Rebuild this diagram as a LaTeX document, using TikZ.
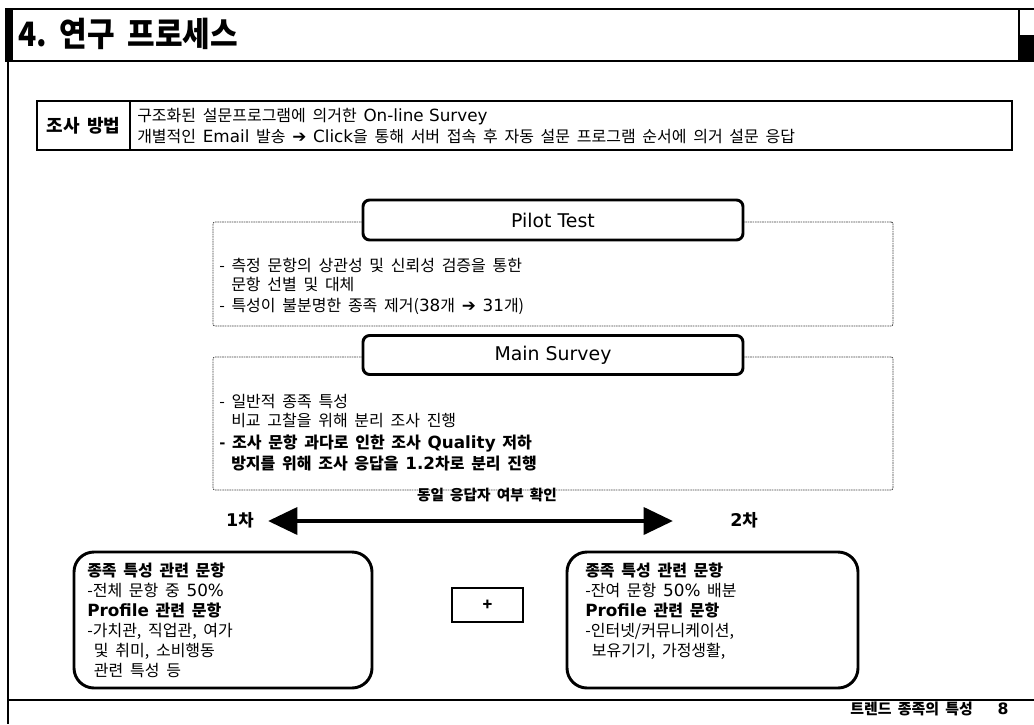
\documentclass[tikz,border=0pt]{standalone}
\usepackage{fontspec}
\setmainfont{Noto Sans CJK KR}
\newfontfamily\lat{DejaVu Sans}[Scale=1.05]
\usetikzlibrary{arrows.meta}
\newcommand{\la}[1]{{\lat #1}}
\newcommand{\sk}{\hspace{0.42em}}
\begin{document}
\begin{tikzpicture}[x=0.75pt,y=-0.75pt,
  txt/.style={anchor=base west, inner sep=0pt, font={\fontsize{12}{14}\selectfont}},
  btxt/.style={anchor=base west, inner sep=0pt, font={\fontsize{12}{14}\selectfont\bfseries}},
  headbox/.style={draw, line width=2.2pt, rounded corners=5pt, fill=white, minimum width=285pt, inner sep=0pt, font={\fontsize{13.5}{15}\selectfont\lat}},
  dbox/.style={draw=black!75, line width=0.6pt, dash pattern=on 1.2pt off 0.6pt, rounded corners=1.5pt, minimum width=510pt, inner sep=0pt},
  rbox/.style={draw, line width=2.2pt, rounded corners=15pt, minimum height=102pt, inner sep=0pt},
  boxtxt/.style={anchor=north west, inner sep=0pt, align=left, font={\fontsize{12}{15}\selectfont}},
  lbl/.style={anchor=base, inner sep=0pt, font={\fontsize{12.5}{14}\selectfont\bfseries}}
]
\useasboundingbox (0,0) rectangle (1034,724);
% title bar
\draw[line width=2pt] (5,9) -- (1034,9);
\draw[line width=2.2pt] (5,61) -- (1034,61);
\fill (5,9) rectangle (13,61);
\draw[line width=0.9pt] (1019,9) -- (1019,61);
\fill (1019,35) rectangle (1034,61);
\node[anchor=base west, inner sep=0pt, font={\fontsize{22.5}{26}\selectfont\bfseries}] (title) at (18,46) {\scalebox{1.0}[1.12]{4.\sk 연구\sk 프로세스}};
% page frame
\draw[line width=1.1pt] (8,61) -- (8,724);
\draw[line width=0.9pt] (8,700) -- (1034,700);
% survey method
\node[draw, line width=0.8pt, minimum width=731.25pt, minimum height=36.75pt, inner sep=0pt] (survey) at (524.5,125.5) {};
\node[draw, line width=0.8pt, minimum width=69.75pt, minimum height=36.75pt, inner sep=0pt, font={\fontsize{13.5}{15}\selectfont\bfseries}] (method) at (83.5,125.5) {조사\sk 방법};
\node[txt] (s1) at (137,121) {구조화된\sk 설문프로그램에\sk 의거한\sk \la{On-line Survey}};
\node[txt] (s2) at (137,142) {개별적인\sk \la{Email}\sk 발송\sk \la{➔}\sk \la{Click}을\sk 통해\sk 서버\sk 접속\sk 후\sk 자동\sk 설문\sk 프로그램\sk 순서에\sk 의거\sk 설문\sk 응답};
% pilot test
\node[dbox, minimum height=78pt] (pbox) at (553,274) {};
\node[headbox, minimum height=30pt] (pilot) at (553,220) {Pilot Test};
\node[txt] (p1) at (219,271) {-\sk 측정\sk 문항의\sk 상관성\sk 및\sk 신뢰성\sk 검증을\sk 통한};
\node[txt] (p2) at (231,290) {문항\sk 선별\sk 및\sk 대체};
\node[txt] (p3) at (219,311) {-\sk 특성이\sk 불분명한\sk 종족\sk 제거(\la{38}개\sk \la{➔}\sk \la{31}개)};
% main survey
\node[dbox, minimum height=99.75pt] (mbox) at (553,423.5) {};
\node[headbox, minimum height=29.25pt] (main) at (553,355) {Main Survey};
\node[txt] (m1) at (219,407) {-\sk 일반적\sk 종족\sk 특성};
\node[txt] (m2) at (231,426) {비교\sk 고찰을\sk 위해\sk 분리\sk 조사\sk 진행};
\node[btxt] (m3) at (219,448) {-\sk 조사\sk 문항\sk 과다로\sk 인한\sk 조사\sk \la{Quality}\sk 저하};
\node[btxt] (m4) at (231,469) {방지를\sk 위해\sk 조사\sk 응답을\sk \la{1.2}차로\sk 분리\sk 진행};
% arrow
\node[lbl, font={\fontsize{11}{13}\selectfont\bfseries}] (same) at (487,500) {동일\sk 응답자\sk 여부\sk 확인};
\node[lbl] (first) at (240,526) {\la{1}차};
\node[lbl] (second) at (744,526) {\la{2}차};
\coordinate (aL) at (268,521);
\coordinate (aR) at (673,521);
\draw[line width=3.5pt, {Triangle[length=22pt,width=20pt]}-{Triangle[length=22pt,width=20pt]}] (aL) -- (aR);
% boxes
\node[rbox, minimum width=223.5pt] (b1) at (223,620) {};
\node[rbox, minimum width=218.25pt] (b2) at (712.5,620) {};
\node[draw, line width=0.8pt, minimum width=53.25pt, minimum height=25.5pt, inner sep=0pt, font={\fontsize{12}{14}\selectfont\bfseries}] (plus) at (487.5,605) {+};
\node[boxtxt] (t1) at (87,563) {\textbf{종족\sk 특성\sk 관련\sk 문항}\\-전체\sk 문항\sk 중\sk \la{50\%}\\\textbf{\la{Profile}\sk 관련\sk 문항}\\-가치관,\sk 직업관,\sk 여가\\\sk 및\sk 취미,\sk 소비행동\\\sk 관련\sk 특성\sk 등};
\node[boxtxt] (t2) at (585,563) {\textbf{종족\sk 특성\sk 관련\sk 문항}\\-잔여\sk 문항\sk \la{50\%}\sk 배분\\\textbf{\la{Profile}\sk 관련\sk 문항}\\-인터넷/커뮤니케이션,\\\sk 보유기기,\sk 가정생활,};
% footer
\node[anchor=base east, inner sep=0pt, font={\fontsize{11.2}{13}\selectfont\bfseries}] (foot) at (973,714) {트렌드\sk 종족의\sk 특성};
\node[anchor=base, inner sep=0pt, font={\fontsize{11.2}{13}\selectfont\bfseries}] (page) at (1003,714) {\la{8}};
\end{tikzpicture}
\end{document}
